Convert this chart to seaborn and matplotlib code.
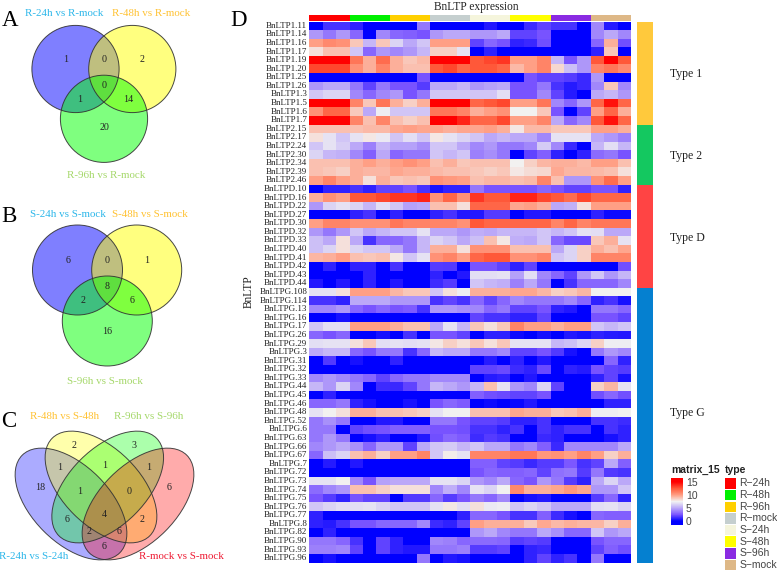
import numpy as np
import pandas as pd
import matplotlib
matplotlib.use('Agg')
import matplotlib.pyplot as plt
import seaborn as sns
from matplotlib.colors import LinearSegmentedColormap, ListedColormap
from matplotlib.patches import Circle, Ellipse, Rectangle

W, H = 777, 571

# heatmap row names by type
type1_genes = ['BnLTP1.11', 'BnLTP1.14', 'BnLTP1.16', 'BnLTP1.17', 'BnLTP1.19', 'BnLTP1.20',
               'BnLTP1.25', 'BnLTP1.26', 'BnLTP1.3', 'BnLTP1.5', 'BnLTP1.6', 'BnLTP1.7']
type2_genes = ['BnLTP2.15', 'BnLTP2.17', 'BnLTP2.24', 'BnLTP2.30', 'BnLTP2.34', 'BnLTP2.39', 'BnLTP2.46']
typeD_genes = ['BnLTPD.10', 'BnLTPD.16', 'BnLTPD.22', 'BnLTPD.27', 'BnLTPD.30', 'BnLTPD.32',
               'BnLTPD.33', 'BnLTPD.40', 'BnLTPD.41', 'BnLTPD.42', 'BnLTPD.43', 'BnLTPD.44']
typeG_genes = ['BnLTPG.108', 'BnLTPG.114', 'BnLTPG.13', 'BnLTPG.16', 'BnLTPG.17', 'BnLTPG.26',
               'BnLTPG.29', 'BnLTPG.3', 'BnLTPG.31', 'BnLTPG.32', 'BnLTPG.33', 'BnLTPG.44',
               'BnLTPG.45', 'BnLTPG.46', 'BnLTPG.48', 'BnLTPG.52', 'BnLTPG.6', 'BnLTPG.63',
               'BnLTPG.66', 'BnLTPG.67', 'BnLTPG.7', 'BnLTPG.72', 'BnLTPG.73', 'BnLTPG.74',
               'BnLTPG.75', 'BnLTPG.76', 'BnLTPG.77', 'BnLTPG.8', 'BnLTPG.82', 'BnLTPG.90',
               'BnLTPG.93', 'BnLTPG.96']

# 3 replicates for each of the 8 samples
type1_values = [
    [0, 1.5, 1.5, 1, 0, 0, 0, 0, 3.5, 0, 0, 0, 0, 0.7, 0, 0, 1.3, 2, 1.5, 1.5, 0, 4, 0.8, 0],
    [4.5, 3.5, 4.5, 3, 0, 4, 3, 2.8, 2.5, 4.5, 5, 5, 4.5, 4.5, 5, 2, 2, 2.5, 0, 0, 0, 4, 5, 4],
    [10, 10.8, 10.5, 8.8, 5.5, 8.8, 6.5, 5, 6, 10, 10, 10, 2, 3, 2.5, 1, 1.2, 2.3, 0, 0, 0, 3, 9.5, 2.3],
    [8, 9, 9, 6, 3, 4.5, 4, 4.5, 5.5, 8.5, 8.5, 7, 0, 1, 0, 0, 0, 0, 0, 0, 0, 1, 8.8, 0],
    [15, 15, 15, 11.5, 9.5, 11.8, 9.5, 8.8, 9.2, 15, 15, 15, 12.5, 13, 13.5, 10, 10, 11, 5.5, 2.5, 4.5, 12.5, 15, 12.5],
    [13, 13, 13, 10.5, 9.5, 11, 9.5, 9, 9, 12.5, 13, 12, 12.5, 12.5, 12, 9.2, 10, 11, 8.3, 5.8, 4.5, 11, 11.5, 10.8],
    [0, 0, 0, 0, 0, 0, 0, 0, 2.5, 0, 0, 0, 0, 0, 0, 0, 2.5, 2, 2, 1.8, 1.2, 4.5, 0, 0],
    [4.5, 5, 5, 3.5, 2, 3.5, 2.5, 2.5, 1.8, 5, 5, 5.5, 4.5, 4.8, 5, 2.5, 2.5, 3.5, 1.5, 0.8, 1.2, 4, 8.8, 4],
    [6, 6.5, 6.5, 4, 3, 4, 4.5, 2.5, 3.5, 6, 6, 6, 6, 6, 6.8, 2.5, 2.5, 4, 2, 0.8, 0, 5, 5.5, 4.5],
    [15, 15, 15, 11, 8.8, 11.5, 9.5, 8.5, 9.5, 15, 15, 15, 12, 12.5, 13, 10, 10, 11.5, 4, 3, 4.5, 12, 14.5, 12],
    [10.5, 12, 12, 8.7, 5, 7.3, 6, 6, 6, 11.5, 11.5, 11, 9.5, 10, 10.5, 7.5, 7.5, 8.8, 2.5, 0, 2, 10, 12, 9.5],
    [15, 15, 15, 11, 9, 11, 9, 8.5, 9, 15, 15, 14, 12, 12, 13, 10, 10, 11, 5, 3, 4, 12.5, 14.5, 12],
]
type2_values = [
    [9, 9, 9, 9, 9.2, 9.2, 9.8, 10, 9.8, 9.8, 9.5, 9.8, 9.8, 10, 9.5, 7.8, 9.2, 9.2, 8.8, 8.8, 8.8, 10, 10, 9.5],
    [8, 7, 6, 7, 7.8, 7.2, 6, 6.8, 6, 7.8, 7, 6.5, 6, 5, 5.5, 5, 5, 4, 7, 7, 7, 5, 4.5, 3.8],
    [6, 7, 6.3, 5, 3.8, 5.5, 4.8, 4.8, 4.2, 6, 6, 5, 4, 4.5, 3.5, 3.5, 4, 6.2, 4, 1.2, 0, 5.5, 6.8, 5.5],
    [6.5, 5.5, 5.3, 4, 2.8, 5, 3, 3.5, 3.5, 6, 5.5, 6, 3.8, 4.2, 3.5, 0, 2, 2.8, 1, 0, 1, 3.2, 3.5, 2.5],
    [9, 9, 9, 9.5, 10, 9.5, 10, 10.5, 10, 9, 9.5, 8.8, 9, 9, 9, 7.5, 8.5, 9.3, 9.5, 9.5, 9.2, 10, 10, 9],
    [9, 8.8, 8.5, 9.5, 9.3, 9.3, 9.8, 9.5, 9.5, 9.2, 9, 9, 8.8, 8.5, 8.8, 7.8, 8.2, 8.3, 9.7, 9.3, 9.3, 9.2, 9, 8],
    [10, 11, 10, 9.5, 8, 9.5, 8.8, 9, 8.8, 10.5, 10.2, 10, 9, 9.3, 9.3, 9, 9.2, 11, 9, 4.5, 4.5, 10.5, 11.8, 10],
]
typeD_values = [
    [0, 1, 1, 1.5, 1, 2, 2, 2.5, 1.5, 0.5, 1, 1, 3.5, 2.5, 2.5, 2.5, 2.5, 3, 2.5, 2, 2, 2.5, 2.5, 1],
    [9.5, 10.5, 10, 12.5, 12.5, 13, 13.5, 13.5, 14, 10.5, 12, 10.5, 13.5, 12.5, 12.5, 14, 14, 13, 12.5, 11.8, 13, 12, 12, 12],
    [4.5, 6.5, 7, 6.5, 5.5, 6.8, 6, 4.8, 5, 9, 9, 8, 12, 12, 12, 9.8, 10, 9.5, 5, 5.3, 8, 10, 10, 10],
    [0, 0, 0, 1, 1.5, 0, 1, 0, 0, 1, 1.5, 0.7, 0.7, 1.8, 1.8, 0, 0.7, 0.7, 0, 0, 0, 1, 0.3, 0.3],
    [10, 11, 11, 10.5, 10.5, 10.5, 11.5, 11, 11, 11, 11, 10.5, 12.5, 12, 12, 12, 12, 12, 11, 12, 11, 11.5, 11.5, 11.5],
    [4.5, 3.5, 4.5, 6, 5, 5.5, 6, 6, 7, 5, 5, 4.5, 5.2, 5, 5.5, 5.5, 5.5, 6, 5.5, 6, 7, 6.8, 5, 5],
    [5.8, 5, 8, 5, 1.5, 3, 3, 3.5, 5.5, 6.5, 6, 5, 5.8, 9, 7.8, 5.2, 5, 6, 3, 2.2, 2.2, 8.8, 9.5, 7],
    [5.8, 6.5, 8, 6.5, 6, 6, 5, 3.5, 5.5, 9.5, 9.5, 8, 10.5, 10.5, 10.5, 9, 9, 9, 5, 6.5, 8.5, 9.5, 9, 9.8],
    [9.3, 9.5, 10, 9, 8.8, 9, 7.8, 6, 7, 10.5, 11, 10, 12, 12.5, 12.5, 10.5, 10.5, 11, 6, 6.5, 8.5, 11, 11, 11],
    [0, 1, 0, 1, 1, 0, 1.5, 0, 0, 1.8, 1.7, 0, 2.5, 2.5, 2, 1, 2, 0, 0, 0, 0, 0, 0, 2.3],
    [0, 0, 0, 0, 1, 0, 0, 0, 0, 1, 0, 0.7, 6.8, 6.8, 7, 4.8, 6.8, 4, 3, 2, 4.5, 6, 4.5, 5.5],
    [0.7, 0, 0.7, 0, 1, 0, 0.7, 0, 0, 1.3, 1.8, 0, 6, 5.5, 5.2, 3.8, 5, 3.5, 0, 1.5, 3, 3, 3, 4],
]
typeG_values = [
    [7, 7, 8, 10, 10, 10, 9.3, 8.8, 8.8, 6, 8, 7.3, 9.5, 9.5, 9.5, 9.8, 9.8, 9.3, 8.5, 8.8, 9.3, 7.5, 7.5, 7.5],
    [1.5, 1.5, 1, 5, 5, 5, 4.5, 4.5, 4.5, 1.5, 2, 1.5, 3, 2, 3, 4, 3.5, 3.5, 3.5, 4, 3, 1, 1.5, 0.5],
    [4, 4, 4.5, 3, 2.5, 3, 2.5, 2.7, 1.5, 4.5, 4.5, 4.2, 4, 3, 3.5, 2, 2, 2.5, 1, 0.7, 0, 3.5, 3.5, 3],
    [0, 0, 0.5, 0, 0, 0, 0, 0, 0, 0, 0, 0, 2, 1.5, 1.5, 1, 1, 2, 0, 0, 0, 2.5, 2.5, 2],
    [6, 6.8, 6.8, 10, 10, 10, 9.5, 9, 9, 5, 7, 5.5, 8.8, 8, 8.8, 11, 10, 10, 9.5, 10, 10, 6, 5.5, 6],
    [3, 2.5, 3, 0, 0, 0.5, 0, 1.5, 0, 2.5, 2.5, 2, 0, 1, 1, 0.3, 0, 0.5, 0, 0.7, 0.5, 1, 0.8, 0.7],
    [6.8, 7, 7, 8, 8.8, 6.8, 7, 6.8, 7, 7.8, 8.5, 8, 8.8, 8, 8.8, 7, 7, 7, 5.5, 5.8, 6.5, 8.5, 7.3, 7.3],
    [5, 5.5, 5.5, 3, 2.5, 3.5, 3.5, 1.5, 3, 5.5, 5, 5, 3.5, 3.5, 4, 2, 2, 2.5, 1.7, 0.5, 0, 3.5, 4.5, 4],
    [0, 1.7, 0, 0.5, 0, 0, 1, 0, 0, 0, 0, 0, 0, 0.8, 0, 1, 0, 0.7, 0, 0, 0, 0, 3, 1],
    [0, 0, 0, 0, 0, 0, 0, 0, 0, 0, 0, 0, 2, 2, 2.2, 1.3, 1, 2.2, 0, 1, 0.8, 2.5, 2, 1.8],
    [4, 4.5, 4, 3.5, 3, 2, 3, 3.5, 3.5, 4, 4, 4, 0, 0.8, 1, 0, 0.7, 0, 0, 0, 0, 1, 2, 0.5],
    [5.5, 4.5, 6.5, 4, 0, 1.3, 1.2, 2, 3.5, 5.5, 5, 4.5, 5.5, 9, 7, 4.5, 4, 6.5, 2, 0, 0, 8.5, 9.3, 7],
    [0, 1, 0, 0, 0, 0, 0, 0, 0, 0, 0, 0, 2.8, 2.3, 2.2, 2, 2, 2.5, 0, 0, 0, 2.3, 3, 2.3],
    [3, 3, 3.5, 1, 0.5, 0, 0, 0.5, 0, 2.5, 3, 2.7, 0, 0.3, 0, 0.2, 0.7, 0, 0, 0, 0, 0, 1, 1],
    [7, 7.5, 8, 9.5, 9.5, 9, 9, 8.8, 8.5, 7, 7.5, 7.5, 9, 9, 9, 9.8, 9.5, 9.5, 8.8, 9, 9.5, 7.3, 7.3, 7.5],
    [3.5, 4.3, 3.5, 0, 0, 0.7, 0.7, 0, 0, 3.5, 3.5, 2.5, 2, 2, 1.8, 1, 1, 1.5, 0, 0, 0, 1.5, 1.5, 1.3],
    [3.5, 3.5, 0, 2, 2.3, 2.5, 2.8, 2.8, 2.8, 2.5, 2.5, 2.3, 1.5, 1.5, 1, 1.5, 0, 1.5, 1, 1.5, 1.5, 0, 1.5, 1],
    [3.5, 4.5, 3.5, 0, 0.5, 1, 0, 0, 0.7, 2.3, 3, 2.7, 1.3, 1.8, 1.5, 0, 0, 1.2, 1, 0, 0, 0, 0.5, 1],
    [4, 4.5, 5, 4.3, 3, 4.5, 4.5, 2, 5, 6, 6.2, 5.5, 6, 5, 5, 3.5, 4, 2.8, 1.2, 4, 4, 4, 4, 5],
    [3, 5.8, 6.5, 9, 9.5, 8.5, 10, 10, 11, 6, 7.7, 7, 11, 11, 11, 11.5, 11.5, 10.3, 10.5, 10, 11, 10, 8.5, 9.5],
    [0, 0.8, 0, 0.7, 0, 0, 0, 0, 0, 0, 0, 0, 2.8, 2.8, 2, 1.8, 1.2, 1.8, 1.8, 2.6, 1.5, 2, 5, 2.8],
    [0, 0, 0, 0, 0, 0, 0, 0, 0, 0, 0, 0, 2.5, 3, 2.8, 2.8, 3, 2, 3.3, 3.5, 1.8, 3.5, 1.7, 1.5],
    [7, 7, 7.5, 4, 2.5, 4.8, 5, 5, 5, 7, 7, 6.5, 4.5, 4, 5, 3, 2.5, 4.5, 3.5, 1.8, 1, 5, 6.5, 5],
    [3.2, 4, 4.5, 9, 9, 8.5, 8, 8, 8, 4, 5.2, 4, 7, 6.5, 7.5, 10.8, 9.5, 9.5, 9.8, 10.3, 9.8, 4.5, 4.5, 6],
    [2.5, 1.8, 1, 2.5, 2, 2, 0, 1.7, 1.7, 3, 1.8, 2.5, 3.5, 3, 4, 0, 0.5, 0.7, 0, 0, 0, 1.8, 3, 1],
    [6, 6.5, 6.8, 6.8, 7, 6.5, 6, 6, 6, 7, 7.8, 6.8, 8, 7.2, 7.3, 6, 6.5, 6, 5, 5, 5, 6.8, 7, 6.5],
    [1, 0, 0, 0, 0, 0, 0, 0, 0, 0, 0, 1, 3, 3, 2.5, 1.5, 1.5, 2.8, 1.3, 0.5, 0, 3, 2.8, 2.8],
    [1, 0.8, 1.5, 2.5, 2.5, 3, 3, 3, 4, 1.3, 1, 2, 10, 9.5, 9.5, 9.5, 8.7, 9.7, 9.2, 9.5, 9.3, 9.3, 8.5, 9.5],
    [0, 1, 0, 0, 0, 0, 0, 0, 0, 0, 0, 0, 4.5, 5, 4, 3.5, 3.5, 5, 4.3, 3, 3, 6, 4.5, 5],
    [3.5, 3.5, 3, 1.5, 0, 2, 1, 0, 0, 4, 3.8, 3, 3.2, 3.2, 3, 1.8, 2, 1.8, 0, 0, 0, 2.5, 3, 3],
    [3.8, 3.8, 4, 2, 0, 2, 1, 0.7, 0.7, 3.5, 3.5, 3.8, 1.8, 1.8, 2, 0, 1, 1.2, 0, 0, 0, 2, 2.8, 2.3],
    [0, 0.5, 0, 0, 0, 0, 0, 0, 3.5, 0, 0.7, 0.5, 0, 0, 0, 0, 1, 2, 1, 1.5, 0, 3.5, 0, 0],
]

sample_names = ['R\u221224h', 'R\u221248h', 'R\u221296h', 'R\u2212mock',
                'S\u221224h', 'S\u221248h', 'S\u221296h', 'S\u2212mock']
sample_colors = ['#FF0000', '#00F000', '#FFD000', '#C5CFCF', '#F5F5DC', '#FFFF00', '#8A2BE2', '#DEB887']
type_names = ['Type 1', 'Type 2', 'Type D', 'Type G']
type_colors = ['#FFC93C', '#14C860', '#FF4444', '#0580D0']

# venn counts, in the order the regions are read
venn_a_counts = [1, 0, 2, 1, 0, 14, 20]
venn_b_counts = [6, 0, 1, 2, 8, 6, 16]
venn_c_counts = [2, 3, 1, 1, 1, 18, 1, 0, 6, 6, 4, 2, 2, 6, 6]

venn_a_labels = ['R-24h vs R-mock', 'R-48h vs R-mock', 'R-96h vs R-mock']
venn_b_labels = ['S-24h vs S-mock', 'S-48h vs S-mock', 'S-96h vs S-mock']
venn_c_labels = ['R-48h vs S-48h', 'R-96h vs S-96h', 'R-24h vs S-24h', 'R-mock vs S-mock']

sns.set_style('white')
plt.rcParams['font.family'] = ['Liberation Serif', 'DejaVu Serif']


def px_axes(fig, x0, y0, x1, y1):
    # axes from pixel box, y measured from the top
    return fig.add_axes([x0 / W, 1 - y1 / H, (x1 - x0) / W, (y1 - y0) / H])


fig = plt.figure(figsize=(W / 100, H / 100), dpi=100)

genes = type1_genes + type2_genes + typeD_genes + typeG_genes
values = np.array(type1_values + type2_values + typeD_values + typeG_values)
columns = [f'{s}_{i}' for s in sample_names for i in range(1, 4)]
df = pd.DataFrame(values, index=genes, columns=columns)

# blue-white-red ramp, goes through violet on the blue side, ends flat past 0 and 15
vmin, vmax = -1.5, 16.5
def pos(v):
    return (v - vmin) / (vmax - vmin)
cmap = LinearSegmentedColormap.from_list('ramp', [
    (0, '#0000FF'), (pos(0), '#0000FF'), (pos(2.5), '#7A55FF'), (pos(5), '#BBA8F8'),
    (pos(7.5), '#F2F2F2'), (pos(10), '#FF9F85'), (pos(12.5), '#FF5A3A'),
    (pos(15), '#FF0000'), (1, '#FF0000')], N=256)

ax = px_axes(fig, 309.3, 21.5, 631, 562.5)
cax = px_axes(fig, 671, 478, 683, 525)
sns.heatmap(df, ax=ax, cmap=cmap, vmin=vmin, vmax=vmax, xticklabels=False, yticklabels=True,
            cbar_ax=cax, cbar_kws={'ticks': [0, 5, 10, 15]})
ax.tick_params(axis='y', length=0, pad=1.5, labelsize=6.5, labelrotation=0, colors='#222222')
ax.set_ylabel('BnLTP', fontsize=8.3, labelpad=3, color='#222222')
ax.set_xlabel('')
cax.tick_params(length=0, pad=2, labelsize=7.5, colors='#444444')
for t in cax.get_yticklabels():
    t.set_family('Liberation Sans')
cax.collections[0].set_edgecolor('face')

# sample strip over the heatmap
strip_ax = px_axes(fig, 309.3, 15, 631, 20.7)
strip = np.repeat(np.arange(len(sample_names)), 3).reshape(1, -1)
sns.heatmap(strip, ax=strip_ax, cmap=ListedColormap(sample_colors), cbar=False,
            xticklabels=False, yticklabels=False)

# type strip at the right
type_ax = px_axes(fig, 636.7, 21.5, 653, 562.5)
type_ids = [0] * len(type1_genes) + [1] * len(type2_genes) + [2] * len(typeD_genes) + [3] * len(typeG_genes)
sns.heatmap(np.array(type_ids).reshape(-1, 1), ax=type_ax, cmap=ListedColormap(type_colors), cbar=False,
            xticklabels=False, yticklabels=False)

# free drawing layer in pixels, for venns and legend
over = fig.add_axes([0, 0, 1, 1], zorder=5)
over.set_xlim(0, W)
over.set_ylim(H, 0)
over.axis('off')
over.patch.set_alpha(0)

over.text(476, 7, 'BnLTP expression', fontsize=8.3, ha='center', va='center', color='#222222')
for name, y in zip(type_names, [74, 156, 238, 413]):
    over.text(669.5, y, name, fontsize=8.5, ha='left', va='center', color='#222222')

over.text(671, 470, 'matrix_15', family='Liberation Sans', fontweight='bold', fontsize=7.5,
          va='center', color='#222222')
over.text(725, 470, 'type', family='Liberation Sans', fontweight='bold', fontsize=7.5,
          va='center', color='#222222')
for i, (name, color) in enumerate(zip(sample_names, sample_colors)):
    y = 483.5 + i * 11.65
    over.add_patch(Rectangle((725, y - 5.3), 11, 10.6, fc=color, ec='none'))
    over.text(739.5, y, name, family='Liberation Sans', fontsize=7.5, va='center', color='#444444')

for letter, x, y in [('A', 10, 20.5), ('B', 9, 217), ('C', 9, 421.5), ('D', 239, 20)]:
    over.text(x, y, letter, fontsize=16.5, ha='center', va='center', color='black')

C_BLUE, C_ORANGE, C_GREEN, C_RED = '#2DB7EA', '#FFC233', '#A5D86A', '#EE1C34'


def venn3(centers, radius, counts, count_xy, labels, label_xy):
    for (cx, cy), color in zip(centers, ['#0000FF', '#FFFF00', '#00FF00']):
        over.add_patch(Circle((cx, cy), radius, fc=color, alpha=0.5, ec='none'))
    for cx, cy in centers:
        over.add_patch(Circle((cx, cy), radius, fc='none', ec='#333333', lw=0.7, alpha=0.9))
    for n, (x, y) in zip(counts, count_xy):
        over.text(x, y, str(n), fontsize=7.2, ha='center', va='center', color='#222222')
    for text, (x, y), color in zip(labels, label_xy, [C_BLUE, C_ORANGE, C_GREEN]):
        over.text(x, y, text, fontsize=7.9, ha='center', va='center', color=color)


venn3([(75.5, 69), (132.3, 69), (104, 118.8)], 43.6, venn_a_counts,
      [(65.7, 60), (104, 60), (142, 60), (80, 99), (104, 85.7), (127.7, 99), (104, 128)],
      venn_a_labels, [(64, 13.3), (151, 13.3), (106, 175.7)])
venn3([(77.5, 270), (136.7, 270), (107.3, 321)], 45, venn_b_counts,
      [(67.7, 260.3), (107, 260.3), (146.3, 260.3), (82.7, 300.7), (107, 286.7), (131.7, 300.7), (107, 331)],
      venn_b_labels, [(68, 214.7), (149.7, 214.7), (104.7, 382)])

# four-way venn, long ellipses at 45 degrees (y axis is flipped here)
ellipses = [((71, 504), 45, '#0000FF'), ((101, 487), 45, '#FFFF00'),
            ((107.7, 487), -45, '#00FF00'), ((138, 504), -45, '#FF0000')]
for (xy, angle, color) in ellipses:
    over.add_patch(Ellipse(xy, 138, 77, angle=angle, fc=color, alpha=0.33, ec='none'))
for (xy, angle, color) in ellipses:
    over.add_patch(Ellipse(xy, 138, 77, angle=angle, fc='none', ec='#333333', lw=0.7, alpha=0.9))
c_xy = [(74.3, 445), (134.3, 445), (59.3, 467.3), (104.3, 466), (149, 467.3), (40, 487), (80, 492),
        (129, 492), (169, 487), (67, 519.3), (104.3, 514.3), (141.7, 519.3), (89.3, 532), (119.3, 532),
        (104.3, 546.7)]
for n, (x, y) in zip(venn_c_counts, c_xy):
    over.text(x, y, str(n), fontsize=7.2, ha='center', va='center', color='#222222')
for text, (x, y), color in zip(venn_c_labels, [(65, 416.7), (149, 416.7), (34, 556.7), (181.7, 556.7)],
                               [C_ORANGE, C_GREEN, C_BLUE, C_RED]):
    over.text(x, y, text, fontsize=7.9, ha='center', va='center', color=color)

fig.savefig('out.png', dpi=100)
